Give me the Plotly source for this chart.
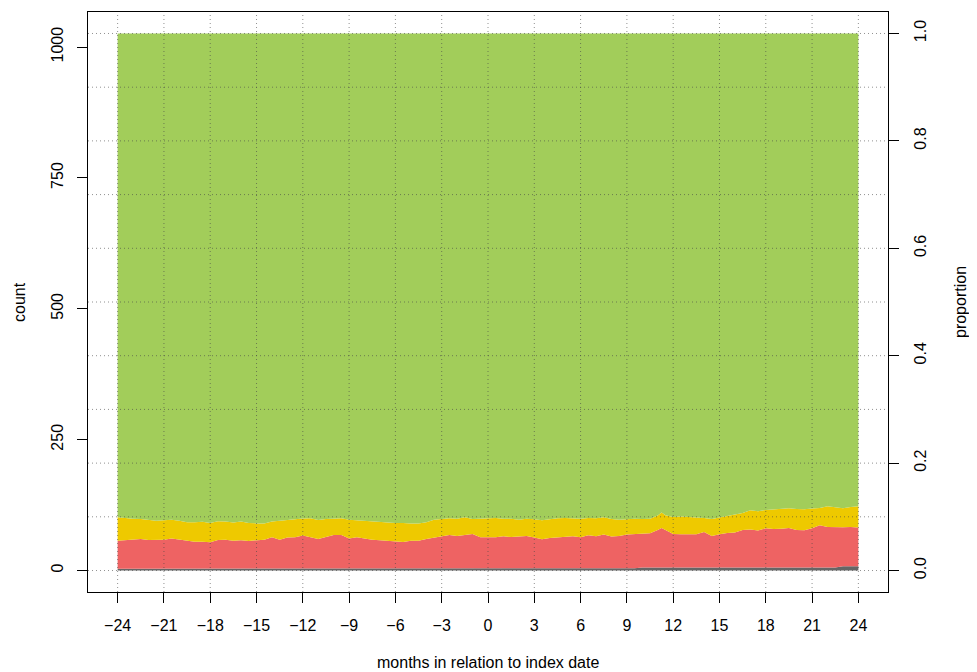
import plotly.graph_objects as go

# ---------------- data ----------------
months = [-24, -23.5, -23, -22.5, -22, -21.5, -21, -20.5, -20, -19.5, -19, -18.5,
          -18, -17.5, -17, -16.5, -16, -15.5, -15, -14.5, -14, -13.5, -13, -12.5,
          -12, -11.5, -11, -10.5, -10, -9.5, -9, -8.5, -8, -7.5, -7, -6.5,
          -6, -5.5, -5, -4.5, -4, -3.5, -3, -2.5, -2, -1.5, -1, -0.5,
          0, 0.5, 1, 1.5, 2, 2.5, 3, 3.5, 4, 4.5, 5, 5.5,
          6, 6.5, 7, 7.5, 8, 8.5, 9, 9.5, 10, 10.5, 11, 11.25, 11.5,
          12, 12.5, 13, 13.5, 14, 14.5, 15, 15.5, 16, 16.5, 17, 17.5,
          18, 18.5, 19, 19.5, 20, 20.5, 21, 21.5, 22, 22.5, 23, 23.5, 24]

# cumulative upper boundary of each band (counts)
grey_top = [3.5] * 56 + [4.5] * 12 + [6] * 27 + [8] * 3

red_top = [57, 58, 60, 60, 58.5, 58.5, 59, 61, 59, 56.6, 55, 55,
           54, 58.5, 59, 57, 58, 56.6, 58, 59, 63.6, 59, 63, 63.6,
           66.8, 63, 60.4, 64, 68, 68, 61, 63.6, 61, 59, 58, 56.6,
           56.6, 54.7, 57, 57, 60.4, 63, 65, 68, 66, 68.7, 70, 63.6,
           63.6, 63.6, 65.5, 64, 65, 66, 63, 59.8, 62.3, 63, 63.6, 65.5,
           63.6, 67.4, 65.5, 69, 65, 66, 69, 70, 70.6, 71, 77.6, 81.4, 77.6,
           70, 69.5, 69.3, 69.3, 73.8, 66, 69.3, 71.9, 72.5, 77.6, 78.2, 76.3,
           80.8, 79.5, 80, 81.4, 77.6, 77, 80.8, 86.5, 83.3, 82.7, 82.7, 83.3, 82]

yellow_top = [101.8, 100, 99, 98.6, 97, 95, 96, 97, 95, 92, 92, 93,
              91, 94, 93.5, 91.6, 93.5, 91, 90, 89.7, 93.5, 95, 97, 98,
              99.5, 100, 96.7, 98.6, 99, 100, 97, 96, 95, 93, 92, 92,
              91, 91, 89.7, 90, 92, 97, 98.6, 100, 99, 102, 98.6, 99,
              99.5, 100.5, 99, 99, 97, 99, 98, 96, 98, 100, 100.5, 100,
              99, 100.5, 100, 101.8, 98.6, 97, 98.6, 99, 98.6, 99, 105, 110.7, 105.6,
              102.4, 103, 102.4, 101, 100.5, 98.6, 101.8, 104, 107, 110, 115, 113,
              115.8, 117, 117, 119, 117.7, 117, 118.3, 119.6, 122.7, 120.8, 119, 121.5, 122.7]

total = [1026] * len(months)

x_ticks = [-24, -21, -18, -15, -12, -9, -6, -3, 0, 3, 6, 9, 12, 15, 18, 21, 24]
count_ticks = [0, 250, 500, 750, 1000]
prop_ticks = [0.0, 0.2, 0.4, 0.6, 0.8, 1.0]
prop_grid = [0.0, 0.1, 0.2, 0.3, 0.4, 0.5, 0.6, 0.7, 0.8, 0.9, 1.0]

# ---------------- styling ----------------
GREY = "#666666"
RED = "#EE6363"
YELLOW = "#EEC900"
GREEN = "#A2CD5A"
GRID = "rgba(70,70,70,0.6)"
FONT = "Liberation Sans, Arial, sans-serif"

N = total[0]
ylo, yhi = -0.04 * N, 1.04 * N
xlo, xhi = -25.92, 25.92

fig = go.Figure()
bands = [(grey_top, GREY, "tozeroy"), (red_top, RED, "tonexty"),
         (yellow_top, YELLOW, "tonexty"), (total, GREEN, "tonexty")]
for ys, col, fill in bands:
    fig.add_trace(go.Scatter(x=months, y=ys, mode="lines", line=dict(width=0, color=col),
                             fill=fill, fillcolor=col, hoverinfo="skip", showlegend=False))

# invisible trace for the right axis
fig.add_trace(go.Scatter(x=[months[0]], y=[0], yaxis="y2", mode="markers",
                         marker=dict(opacity=0), showlegend=False, hoverinfo="skip"))

shapes = []
for xv in x_ticks:
    shapes.append(dict(type="line", xref="x", yref="paper", x0=xv, x1=xv, y0=0, y1=1,
                       line=dict(color=GRID, width=1, dash="1px,3px"), layer="above"))
for pv in prop_grid:
    shapes.append(dict(type="line", xref="paper", yref="y2", x0=0, x1=1, y0=pv, y1=pv,
                       line=dict(color=GRID, width=1, dash="1px,3px"), layer="above"))

fig.update_layout(
    width=969, height=664,
    margin=dict(l=80, r=89, t=4, b=80),
    paper_bgcolor="white", plot_bgcolor="white",
    font=dict(family=FONT, size=16, color="black"),
    showlegend=False,
    shapes=shapes,
    xaxis=dict(range=[xlo, xhi], tickvals=x_ticks, ticktext=[str(v).replace("-", "\u2212") for v in x_ticks],
               ticks="outside", ticklen=10, tickcolor="black", showgrid=False, zeroline=False,
               showline=True, mirror=True, linecolor="black", linewidth=1,
               tickfont=dict(size=16), ticklabelstandoff=9),
    yaxis=dict(range=[ylo, yhi], tickvals=count_ticks, ticks="outside", ticklen=10,
               tickcolor="black", showgrid=False, zeroline=False, showline=True, mirror=True,
               linecolor="black", linewidth=1, tickangle=-90, tickfont=dict(size=16),
               ticklabelstandoff=8),
    yaxis2=dict(range=[ylo / N, yhi / N], tickvals=prop_ticks, tickformat=".1f",
                overlaying="y", side="right", ticks="outside", ticklen=10, tickcolor="black",
                showgrid=False, zeroline=False, showline=False, tickangle=-90,
                tickfont=dict(size=16), ticklabelstandoff=8),
    annotations=[
        dict(text="months in relation to index date", xref="paper", yref="paper",
             x=0.5, y=0, yshift=-70, showarrow=False, font=dict(size=16),
             xanchor="center", yanchor="middle"),
        dict(text="count", xref="paper", yref="paper", x=0, xshift=-69, y=0.5,
             showarrow=False, textangle=-90, font=dict(size=16),
             xanchor="center", yanchor="middle"),
        dict(text="proportion", xref="paper", yref="paper", x=1, xshift=72, y=0.5,
             showarrow=False, textangle=-90, font=dict(size=16),
             xanchor="center", yanchor="middle"),
    ],
)

fig.write_html("out.html")
